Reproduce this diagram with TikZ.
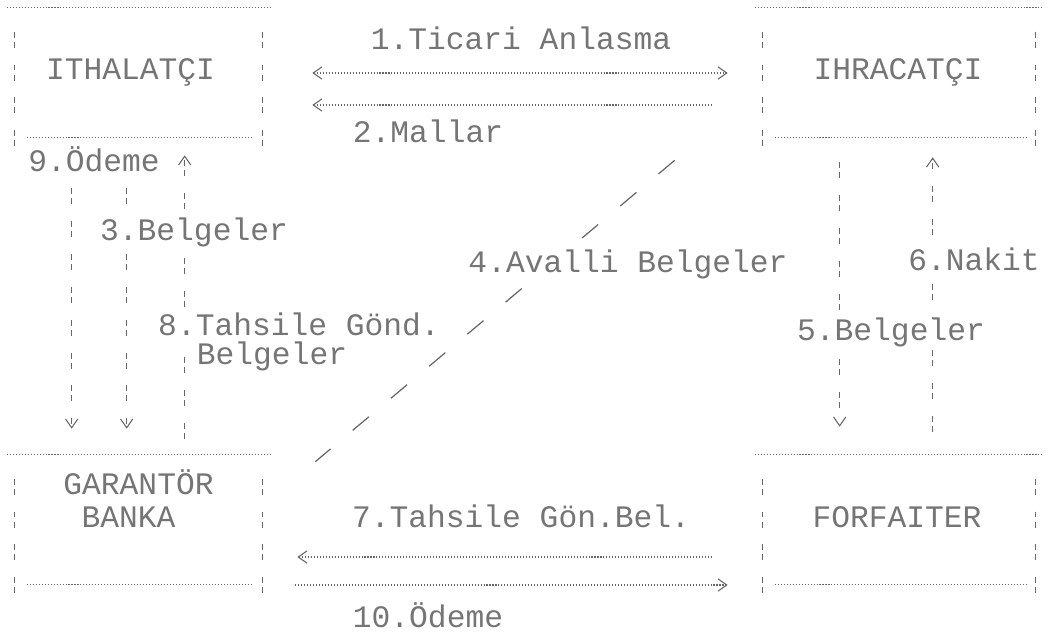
\documentclass[tikz,border=0pt]{standalone}
\usepackage{fontspec}
\setmonofont{Liberation Mono}
\usetikzlibrary{calc,arrows.meta}
\definecolor{cdot}{gray}{0.40}
\definecolor{ctext}{gray}{0.46}

\begin{document}
\begin{tikzpicture}[x=0.02cm, y=-0.02cm,
  >={Straight Barb[length=5pt,width=7pt]},
  lbl/.style={text=ctext, font=\ttfamily\fontsize{17.8}{20}\selectfont, inner sep=0.5pt,
    text height=10pt, text depth=2pt},
  lblw/.style={lbl, fill=white, inner xsep=3pt, inner ysep=2pt},
  box/.style={minimum width=4.94cm, minimum height=2.78cm, inner sep=0pt},
  wbox/.style={box, minimum width=5.44cm},
  dotline/.style={cdot, line width=0.6pt, dash pattern=on 0.6pt off 1.1pt},
  barline/.style={cdot, line width=0.6pt, dash pattern=on 3.4pt off 2.3pt on 3.4pt off 9.6pt},
  slash/.style={cdot, line width=0.7pt, dash pattern=on 12pt off 16.4pt}]
\useasboundingbox (0,0) rectangle (1047,632);
%% ------------------------------------------------------------------ boxes
\node[box]  (ith)  at (138.5,77.5)  {};
\node[wbox] (ihr)  at (899,77.5)    {};
\node[box]  (gar)  at (138.5,524.5) {};
\node[wbox] (forf) at (899,524.5)   {};
\foreach \b in {ith,ihr,gar,forf} {
  \draw[dotline] ($(\b.north west)+(-8,0)$) -- ($(\b.north east)+(9,0)$);
  \draw[barline] ($(\b.north west)+(0,24)$) -- (\b.south west);
  \draw[barline] ($(\b.north east)+(0,24)$) -- (\b.south east);
  \draw[dotline] ($(\b.south west)+(12,-10)$) -- ($(\b.south east)+(-9,-10)$);
}
\node[lbl] (ithT)  at ($(ith)+(-8,-5)$)   {ITHALATÇI};
\node[lbl] (ihrT)  at ($(ihr)+(-1,-5)$)   {IHRACATÇI};
\node[lbl] (garT)  at ($(gar)+(0,-37)$)   {GARANTÖR};
\node[lbl] (garB)  at ($(gar)+(-10,-4)$)  {BANKA};
\node[lbl] (forfT) at ($(forf)+(-2,-4)$)  {FORFAITER};
%% ------------------------------------------------------------------ flows
% between the traders
\draw[dotline, <->] ($(ith.east)+(50,-4.5)$) -- ($(ihr.west)+(-35,-4.5)$);
\draw[dotline, <-]  ($(ith.east)+(50,27.5)$) -- ($(ihr.west)+(-50,27.5)$);
% between the bank and the forfaiter
\draw[dotline, <-]  ($(gar.east)+(35,32.5)$) -- ($(forf.west)+(-50,32.5)$);
\draw[dotline, ->]  ($(gar.east)+(33,60.5)$) -- ($(forf.west)+(-35,60.5)$);
% importer and bank
\draw[barline, ->] ($(ith.south west)+(57,41)$)  -- ($(gar.north west)+(57,-26)$);
\draw[barline, ->] ($(ith.south west)+(112,41)$) -- ($(gar.north west)+(112,-26)$);
\draw[barline, ->] ($(gar.north west)+(170,-16)$) -- ($(ith.south west)+(170,8)$);
% exporter and forfaiter
\draw[barline, ->] ($(ihr.south west)+(77,15)$)  -- ($(forf.north west)+(77,-28)$);
\draw[barline, ->] ($(forf.north west)+(170,-23)$) -- ($(ihr.south west)+(170,10)$);
% the avalised documents, exporter to bank
\draw[slash] ($(ihr.south west)+(-88,13)$) -- ($(gar.north east)+(53,7)$);
%% ------------------------------------------------------------------ labels
\node[lbl]  (l1)  at (521,42)  {1.Ticari Anlasma};
\node[lbl]  (l2)  at (428,135) {2.Mallar};
\node[lblw] (l9)  at (94,164)  {9.Ödeme};
\node[lblw] (l3)  at (194,233) {3.Belgeler};
\node[lblw] (l4)  at (628,265) {4.Avalli Belgeler};
\node[lblw] (l8)  at (299,328) {8.Tahsile Gönd.};
\node[lbl]  (l8b) at (272,357) {Belgeler};
\node[lblw] (l6)  at (974,263) {6.Nakit};
\node[lblw] (l5)  at (891,333) {5.Belgeler};
\node[lbl]  (l7)  at (521,520) {7.Tahsile Gön.Bel.};
\node[lbl]  (l10) at (428,620) {10.Ödeme};
\end{tikzpicture}
\end{document}
